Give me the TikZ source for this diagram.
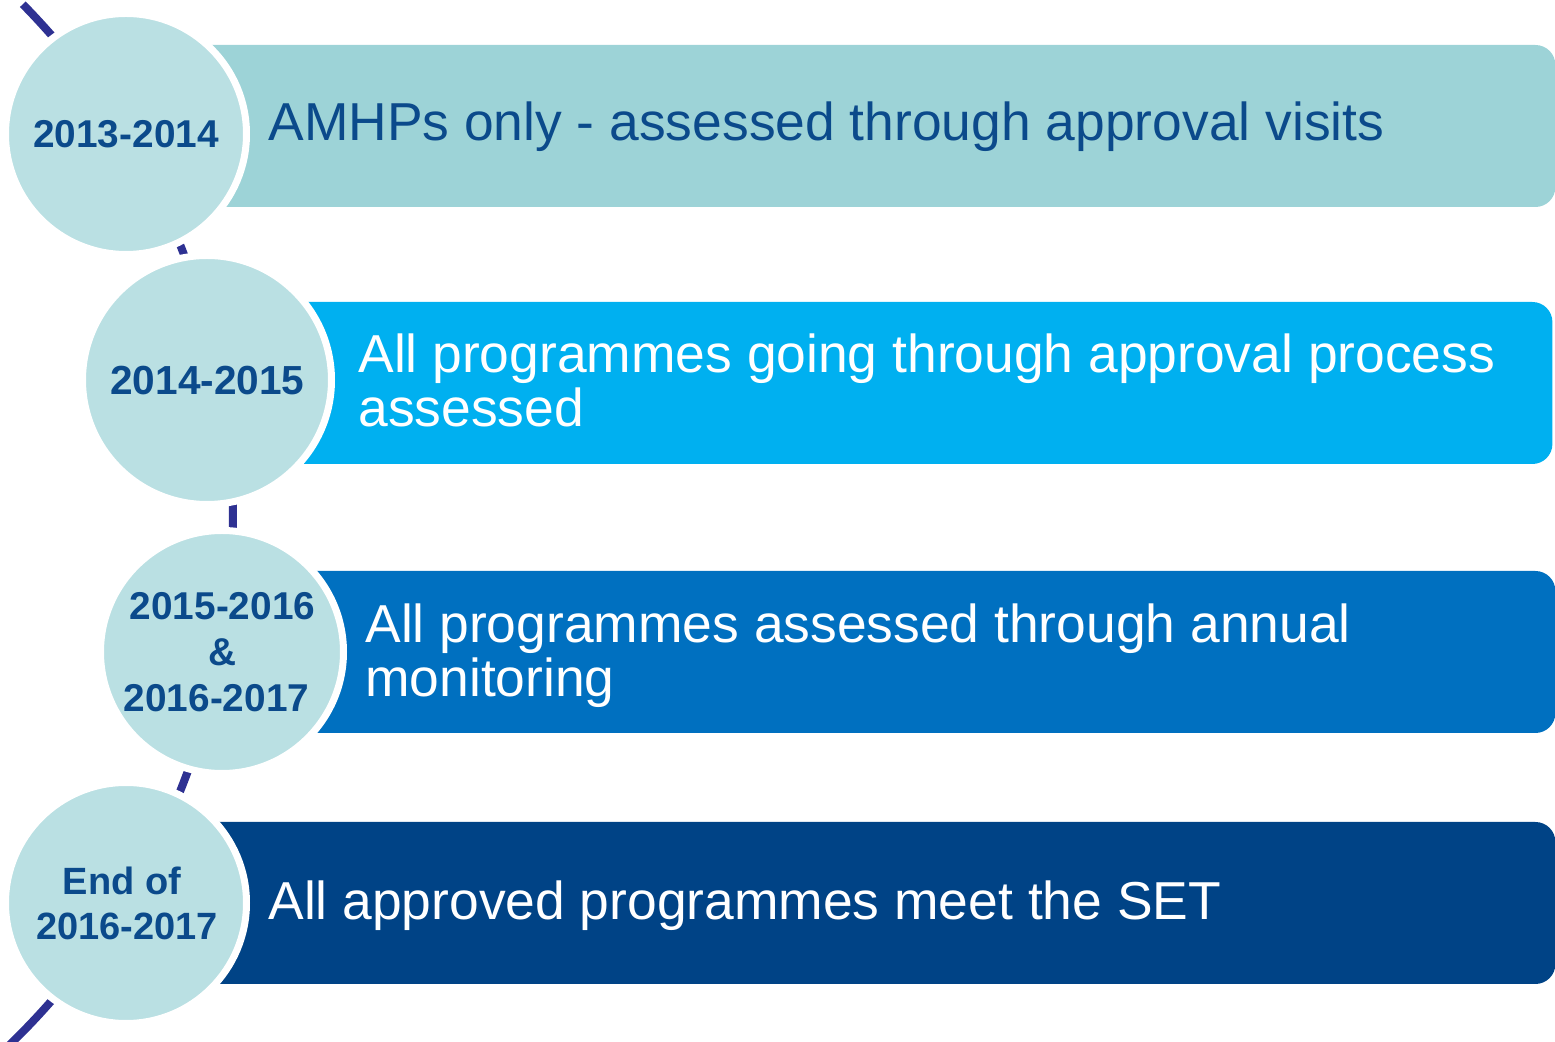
\documentclass[tikz,border=0pt]{standalone}
\usepackage{fontspec}
\setmainfont{Liberation Sans}
\definecolor{arccol}{HTML}{2E3192}
\definecolor{circfill}{HTML}{BAE0E3}
\definecolor{barA}{HTML}{9DD3D7}
\definecolor{barB}{HTML}{00B0F0}
\definecolor{barC}{HTML}{0070C0}
\definecolor{barD}{HTML}{004386}
\definecolor{darktext}{HTML}{0B4A8B}
\newcommand\nolskip{\lineskiplimit=-100pt\relax}
\begin{document}
\begin{tikzpicture}[x=0.5pt,y=-0.5pt,
  barbox/.style={rectangle, rounded corners=10pt, minimum height=81pt, inner sep=0pt, anchor=west},
  yearcirc/.style={circle, fill=circfill, draw=white, line width=3.5pt, inner sep=0pt},
  yeartext/.style={text=darktext, inner sep=0pt, align=center, font={\bfseries\fontsize{19.4}{23}\selectfont\nolskip}},
  bartext/.style={inner sep=0pt, align=left, font={\fontsize{26.7}{27}\selectfont\nolskip}},
  timeline/.style={draw=arccol, line width=4pt}
]
\useasboundingbox (0,0) rectangle (1555,1042);
\clip (0,0) rectangle (1555,1042);

% timeline arc
\coordinate (arcC) at (-500,518);
\draw[timeline] (arcC) ++(44.5:366.5pt) arc[start angle=44.5, end angle=-46.5, radius=366.5pt];

% bars
\node[barbox, fill=barA, minimum width=714.5pt] (b1) at (126,126) {};
\node[barbox, fill=barB, minimum width=672.5pt] (b2) at (207,383) {};
\node[barbox, fill=barC, minimum width=666.5pt] (b3) at (222,652) {};
\node[barbox, fill=barD, minimum width=714.5pt] (b4) at (126,903) {};

% circles
\node[yearcirc, minimum size=120.5pt] (c1) at (126,134) {};
\node[yearcirc, minimum size=124.5pt] (c2) at (207,380) {};
\node[yearcirc, minimum size=121.5pt] (c3) at (222,652) {};
\node[yearcirc, minimum size=120.5pt] (c4) at (126,903) {};

% circle texts
\node[yeartext, anchor=base] (t1) at (126,148) {2013-2014};
\node[yeartext, anchor=base, font={\bfseries\fontsize{20.3}{24}\selectfont}] (t2) at (207.5,395) {2014-2015};
\node[yeartext] (t3) at (222.5,652) {2015-2016\\\&\\2016-2017\kern6pt};
\node[yeartext, font={\bfseries\fontsize{19}{22.5}\selectfont\nolskip}] (t4) at (127,903) {End of\kern5pt\\2016-2017};

% bar texts
\node[bartext, text=darktext, anchor=base west] (l1) at (268,141) {AMHPs only - assessed through approval visits};
\node[bartext, text=white, anchor=west] (l2) at (358,380) {All programmes going through approval process\\assessed};
\node[bartext, text=white, anchor=west] (l3) at (365,655.5) {All programmes assessed through annual\\monitoring};
\node[bartext, text=white, anchor=base west] (l4) at (268,920) {All approved programmes meet the SET};
\end{tikzpicture}
\end{document}
